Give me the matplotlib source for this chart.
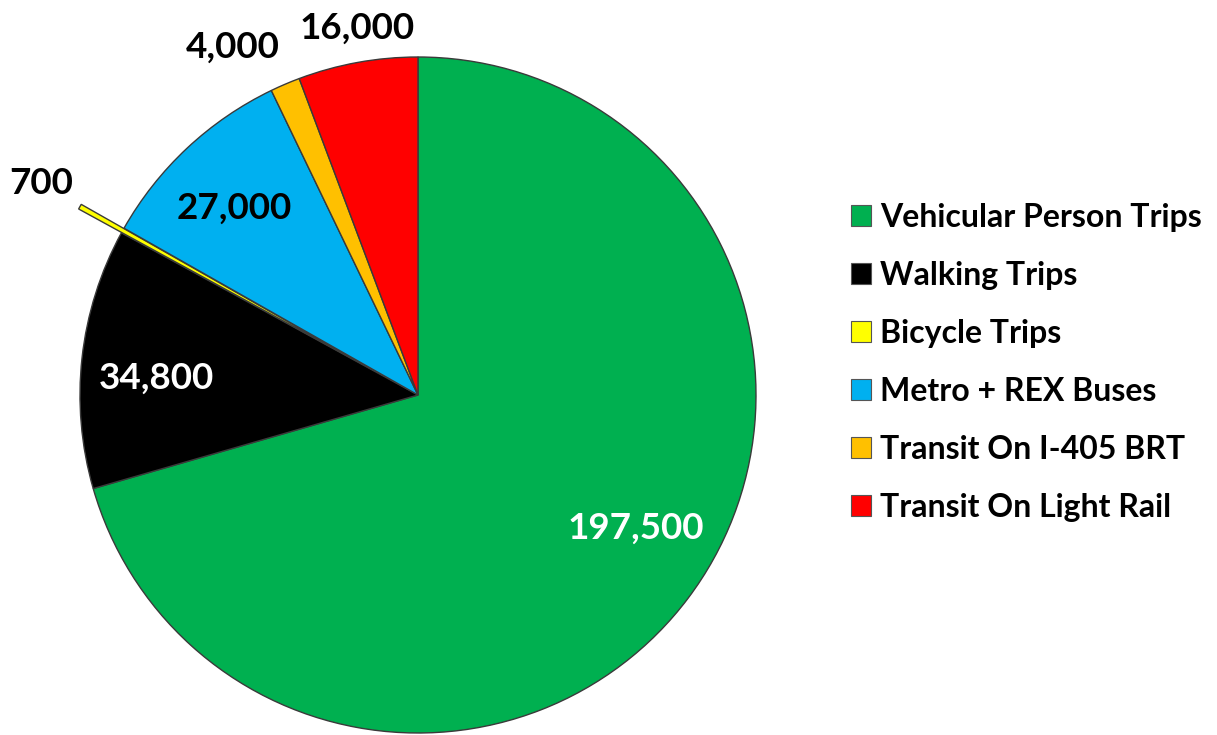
import numpy as np
import matplotlib
matplotlib.use("Agg")
import matplotlib.pyplot as plt
from matplotlib.patches import Patch

categories = ["Vehicular Person Trips", "Walking Trips", "Bicycle Trips",
              "Metro + REX Buses", "Transit On I-405 BRT", "Transit On Light Rail"]
values = [197500, 34800, 700, 27000, 4000, 16000]
value_labels = ["197,500", "34,800", "700", "27,000", "4,000", "16,000"]
colors = ["#00B050", "#000000", "#FFFF00", "#00B0F0", "#FFC000", "#FF0000"]
label_colors = ["white", "white", "black", "black", "black", "black"]
# label placement (radius fraction, angle nudge in degrees)
label_r = [0.755, 0.774, 1.28, 0.774, 1.166, 1.10]
label_dtheta = [5.6, 2.7, -0.2, 1.4, 4.9, -0.9]
explode = [0, 0, 0.145, 0, 0, 0]

W, H, DPI = 1217, 735, 100
fig = plt.figure(figsize=(W / DPI, H / DPI), dpi=DPI)
ax = fig.add_axes([0, 0, 1, 1])
R = 338.0
cx, cy = 418.0, 395.0

wedges, _ = ax.pie(values, colors=colors, startangle=90, counterclock=False,
                   explode=explode, radius=1.0, center=(0, 0), frame=True,
                   wedgeprops=dict(edgecolor="#3a3a3a", linewidth=1.0))
ax.set_xlim(-cx / R, (W - cx) / R)
ax.set_ylim(-(H - cy) / R, cy / R)
ax.set_aspect("auto")
ax.axis("off")

font = "Lato"
for w, lab, r, dt, col in zip(wedges, value_labels, label_r, label_dtheta, label_colors):
    mid = np.deg2rad((w.theta1 + w.theta2) / 2 + dt)
    ax.text(r * np.cos(mid), r * np.sin(mid), lab, ha="center", va="center",
            fontsize=26.5, fontweight="bold", color=col, family=font)

handles = [Patch(facecolor=c, edgecolor="#555555", linewidth=0.8) for c in colors]
leg = fig.legend(handles, categories, loc="upper left",
                 bbox_to_anchor=(851 / W, 1 - 203 / H), frameon=False,
                 prop=dict(family=font, weight="bold", size=23),
                 handlelength=0.62, handleheight=0.62, handletextpad=0.3,
                 labelspacing=0.905, borderaxespad=0, borderpad=0)

fig.savefig("out.png", dpi=DPI)
